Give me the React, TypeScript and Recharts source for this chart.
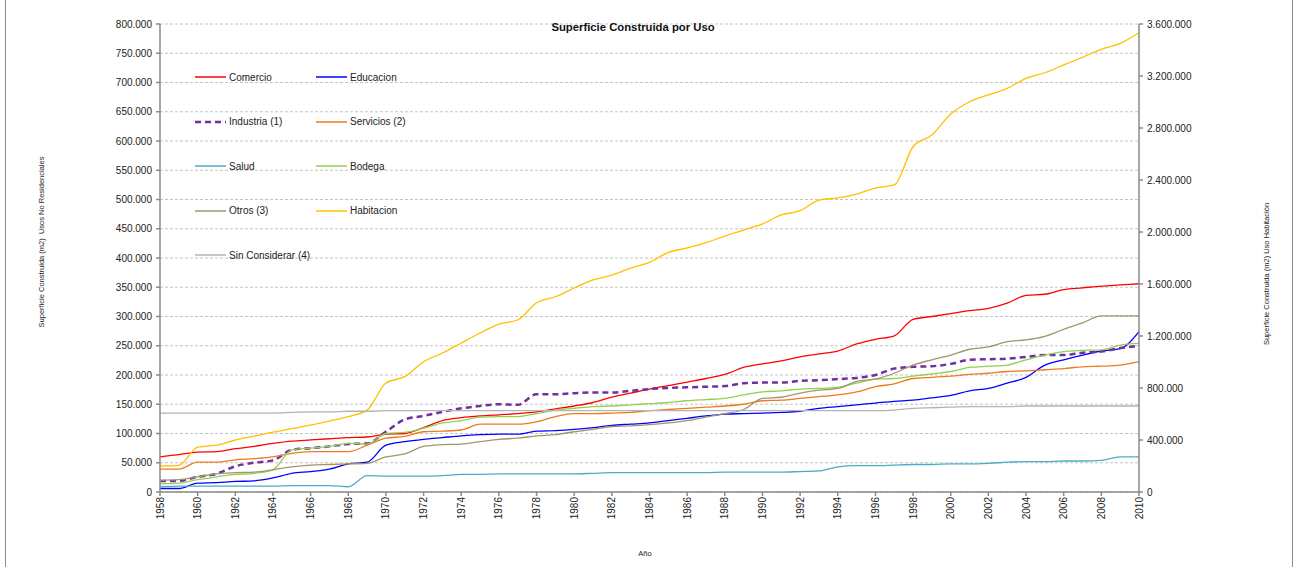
import { LineChart, Line, XAxis, YAxis, CartesianGrid, Legend } from 'recharts'

// años (eje X)
const years = [
  1958, 1959, 1960, 1961, 1962, 1963, 1964, 1965, 1966, 1967, 1968, 1969, 1970,
  1971, 1972, 1973, 1974, 1975, 1976, 1977, 1978, 1979, 1980, 1981, 1982, 1983,
  1984, 1985, 1986, 1987, 1988, 1989, 1990, 1991, 1992, 1993, 1994, 1995, 1996,
  1997, 1998, 1999, 2000, 2001, 2002, 2003, 2004, 2005, 2006, 2007, 2008, 2009, 2010,
]

// valores en miles de m2
const comercio = [
  60, 64, 68, 69, 74, 78, 83, 87, 89, 91, 93, 94, 99,
  100, 110, 122, 127, 130, 132, 134, 137, 142, 147, 153, 162, 169,
  176, 182, 188, 194, 201, 213, 219, 224, 231, 236, 241, 253, 261,
  267, 295, 300, 305, 310, 314, 323, 336, 338, 346, 349, 352, 354, 356,
]
const educacion = [
  6, 6, 15, 16, 18, 19, 24, 32, 35, 39, 48, 51, 80,
  86, 90, 93, 96, 98, 99, 99, 104, 105, 107, 110, 114, 116,
  118, 122, 126, 130, 133, 134, 135, 136, 138, 143, 146, 149, 152,
  155, 157, 161, 165, 173, 177, 186, 196, 217, 226, 234, 241, 245, 274,
]
const industria = [
  19, 19, 26, 31, 44, 50, 54, 72, 75, 78, 82, 83, 103,
  124, 130, 137, 143, 147, 150, 149, 167, 167, 169, 170, 170, 173,
  176, 178, 179, 180, 181, 186, 187, 187, 190, 191, 193, 195, 200,
  211, 214, 215, 219, 226, 227, 228, 231, 234, 234, 238, 240, 246, 250,
]
const servicios = [
  39, 39, 51, 51, 55, 57, 60, 66, 69, 69, 69, 80, 92,
  95, 103, 104, 106, 116, 116, 116, 120, 129, 134, 134, 135, 136,
  139, 141, 143, 145, 147, 150, 156, 157, 160, 163, 166, 171, 180,
  185, 194, 196, 198, 201, 203, 206, 207, 209, 211, 214, 215, 217, 223,
]
const salud = [
  9, 10, 10, 10, 10, 10, 10, 11, 11, 11, 9, 28, 27,
  27, 27, 28, 30, 30, 31, 31, 31, 31, 31, 32, 33, 33,
  33, 33, 33, 33, 34, 34, 34, 34, 35, 36, 43, 45, 45,
  46, 47, 47, 48, 48, 49, 51, 52, 52, 53, 53, 54, 60, 60,
]
const bodega = [
  14, 15, 21, 26, 30, 32, 38, 72, 75, 78, 83, 82, 100,
  102, 109, 118, 122, 128, 129, 129, 134, 140, 143, 146, 147, 149,
  151, 153, 156, 158, 160, 166, 171, 173, 176, 177, 179, 186, 193,
  194, 198, 202, 206, 213, 215, 217, 226, 234, 240, 242, 243, 251, 254,
]
const otros = [
  20, 21, 26, 31, 33, 34, 38, 43, 46, 47, 48, 49, 60,
  65, 78, 81, 82, 86, 90, 92, 96, 98, 103, 107, 112, 113,
  115, 118, 122, 128, 134, 141, 160, 162, 169, 174, 177, 189, 193,
  203, 217, 226, 234, 244, 248, 257, 260, 266, 278, 289, 301, 301, 301,
]
const habitacion = [
  200, 205, 346, 360, 400, 430, 460, 487, 515, 546, 580, 630, 838,
  887, 1002, 1069, 1146, 1223, 1292, 1323, 1456, 1502, 1569, 1631, 1669, 1723,
  1767, 1843, 1877, 1918, 1969, 2015, 2062, 2131, 2164, 2246, 2262, 2292, 2338,
  2362, 2656, 2746, 2908, 3002, 3054, 3105, 3182, 3225, 3285, 3344, 3405, 3451, 3533,
]
const sinConsiderar = [
  135, 135, 135, 135, 135, 135, 135, 136, 137, 137, 138, 138, 139,
  139, 139, 139, 139, 139, 139, 139, 139, 139, 139, 139, 139, 139,
  139, 139, 139, 139, 139, 139, 139, 139, 139, 139, 139, 139, 139,
  140, 143, 144, 145, 146, 146, 146, 147, 147, 147, 147, 147, 147, 147,
]

const leftTicks = [
  0, 50000, 100000, 150000, 200000, 250000, 300000, 350000, 400000,
  450000, 500000, 550000, 600000, 650000, 700000, 750000, 800000,
]
const rightTicks = [0, 400000, 800000, 1200000, 1600000, 2000000, 2400000, 2800000, 3200000, 3600000]

type Serie = {
  key: string
  name: string
  values: number[]
  color: string
  axis: 'left' | 'right'
  dash?: string
  width?: number
}

const series: Serie[] = [
  { key: 'comercio', name: 'Comercio', values: comercio, color: '#FF0000', axis: 'left' },
  { key: 'educacion', name: 'Educacion', values: educacion, color: '#0000FF', axis: 'left' },
  { key: 'industria', name: 'Industria (1)', values: industria, color: '#7030A0', axis: 'left', dash: '6 4', width: 2.5 },
  { key: 'servicios', name: 'Servicios (2)', values: servicios, color: '#EE7A1C', axis: 'left' },
  { key: 'salud', name: 'Salud', values: salud, color: '#4BACC6', axis: 'left' },
  { key: 'bodega', name: 'Bodega', values: bodega, color: '#92D050', axis: 'left' },
  { key: 'otros', name: 'Otros (3)', values: otros, color: '#A0966A', axis: 'left' },
  { key: 'habitacion', name: 'Habitacion', values: habitacion, color: '#FFC000', axis: 'right' },
  { key: 'sin', name: 'Sin Considerar (4)', values: sinConsiderar, color: '#B4B4B4', axis: 'left' },
]

const data = years.map((year, i) => {
  const row: Record<string, number | string> = { year: String(year) }
  series.forEach((s) => {
    row[s.key] = s.values[i] * 1000
  })
  return row
})

const fmt = (v: number) => String(v).replace(/\B(?=(\d{3})+(?!\d))/g, '.')

const FONT = '"Liberation Sans", Arial, sans-serif'
const axisGray = '#8A8A8A'

const YearTick = ({ x, y, payload }: any) => (
  <text
    x={x}
    y={y}
    transform={`rotate(-90, ${x}, ${y})`}
    textAnchor='end'
    dy='0.35em'
    fontSize={10}
    fontFamily={FONT}
    fill='#222'
  >
    {payload.value}
  </text>
)

const renderLegend = () => (
  <div style={{ display: 'grid', gridTemplateColumns: '121px 130px', fontFamily: FONT, fontSize: 10, color: '#222' }}>
    {series.map((s) => (
      <div key={s.key} style={{ height: 44.5, display: 'flex', alignItems: 'center' }}>
        <svg width={34} height={6} style={{ flex: 'none' }}>
          <line x1={0} y1={3} x2={31} y2={3} stroke={s.color} strokeWidth={s.width ?? 1.5} strokeDasharray={s.dash} />
        </svg>
        <span style={{ whiteSpace: 'nowrap' }}>{s.name}</span>
      </div>
    ))}
  </div>
)

const sideLabel: React.CSSProperties = {
  position: 'absolute',
  transform: 'translate(-50%, -50%) rotate(-90deg)',
  whiteSpace: 'nowrap',
  fontFamily: '"Liberation Sans Narrow", "Liberation Sans", Arial, sans-serif',
  fontSize: 7.5,
  color: '#222',
}

export default function App() {
  return (
    <div style={{ position: 'absolute', left: 0, top: 0, width: 1294, height: 567, background: '#fff', overflow: 'hidden' }}>
      <div style={{ position: 'absolute', left: 5, top: -2, width: 1286, height: 600, border: '1px solid #8c8c8c' }} />
      <LineChart width={1294} height={567} data={data} margin={{ top: 24, right: 0, bottom: 0, left: 0 }}>
        <CartesianGrid yAxisId='left' vertical={false} stroke='#C4C4C4' strokeDasharray='3 2' />
        <XAxis
          dataKey='year'
          interval={1}
          height={75}
          tick={<YearTick />}
          tickSize={4}
          tickMargin={1}
          stroke={axisGray}
          strokeWidth={1.5}
          padding={{ left: 0, right: 0 }}
        />
        <YAxis
          yAxisId='left'
          domain={[0, 800000]}
          ticks={leftTicks}
          tickFormatter={fmt}
          width={160}
          tickSize={4}
          tickMargin={4}
          stroke={axisGray}
          strokeWidth={1.5}
          tick={{ fontSize: 10, fontFamily: FONT, fill: '#222' }}
        />
        <YAxis
          yAxisId='right'
          orientation='right'
          domain={[0, 3600000]}
          ticks={rightTicks}
          tickFormatter={fmt}
          width={155}
          tickSize={4}
          tickMargin={4}
          stroke={axisGray}
          strokeWidth={1.5}
          tick={{ fontSize: 10, fontFamily: FONT, fill: '#222' }}
        />
        <Legend
          layout='horizontal'
          verticalAlign='middle'
          align='center'
          content={renderLegend}
          wrapperStyle={{ left: 195, top: 55, width: 260 }}
        />
        {series.map((s) => (
          <Line
            key={s.key}
            yAxisId={s.axis}
            dataKey={s.key}
            name={s.name}
            type='monotone'
            stroke={s.color}
            strokeWidth={s.width ?? 1.3}
            strokeDasharray={s.dash}
            dot={false}
            activeDot={false}
            isAnimationActive={false}
          />
        ))}
      </LineChart>
      <div
        style={{
          position: 'absolute',
          left: 633,
          top: 27,
          transform: 'translate(-50%, -50%)',
          fontFamily: FONT,
          fontWeight: 'bold',
          fontSize: 11.3,
          color: '#111',
          whiteSpace: 'nowrap',
        }}
      >
        Superficie Construida por Uso
      </div>
      <div style={{ ...sideLabel, left: 41, top: 242 }}>Superficie Construida (m2)&nbsp; Usos No Residenciales</div>
      <div style={{ ...sideLabel, left: 1266, top: 274 }}>Superficie Construida (m2) Uso Habitación</div>
      <div
        style={{
          position: 'absolute',
          left: 645,
          top: 553,
          transform: 'translate(-50%, -50%)',
          fontFamily: FONT,
          fontSize: 7.5,
          color: '#222',
        }}
      >
        Año
      </div>
    </div>
  )
}
